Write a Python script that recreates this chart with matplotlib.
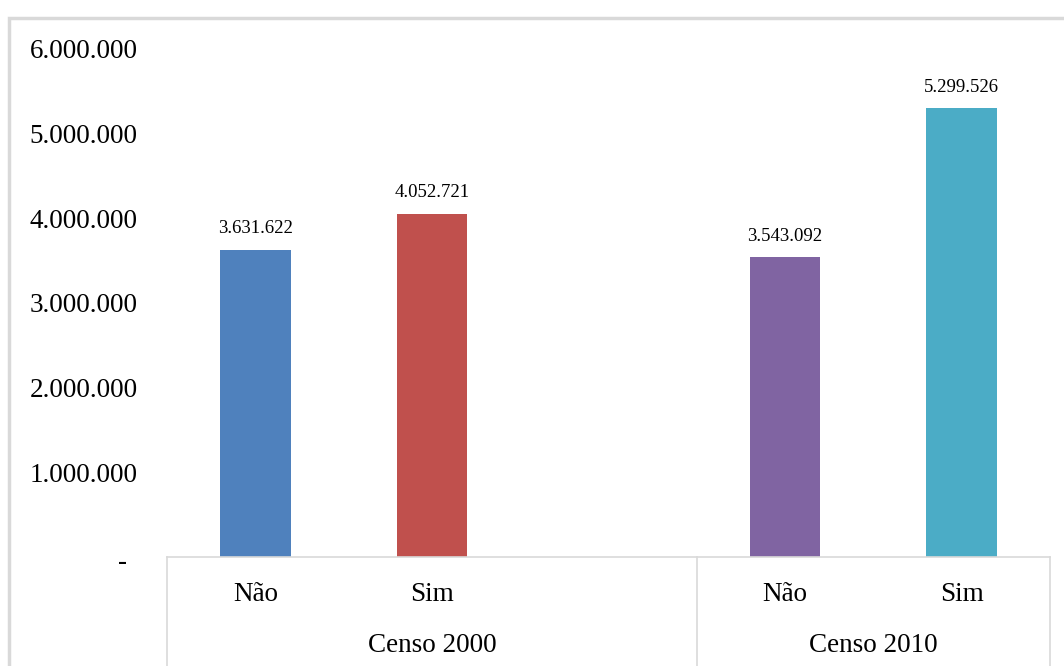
import numpy as np
import matplotlib
matplotlib.use('Agg')
import matplotlib.pyplot as plt
import matplotlib.transforms as mtransforms
from matplotlib.patches import Rectangle

# data
categories = ['Não', 'Sim', '', 'Não', 'Sim']
values = [3631622, 4052721, np.nan, 3543092, 5299526]
bar_colors = ['#4F81BD', '#C0504D', '#FFFFFF', '#8064A2', '#4BACC6']
groups = ['Censo 2000', 'Censo 2010']
group_spans = [(0, 2), (3, 4)]   # first and last slot of each group
yticks = [0, 1000000, 2000000, 3000000, 4000000, 5000000, 6000000]

plt.rcParams['font.family'] = ['Liberation Serif', 'DejaVu Serif']

def fmt_br(v):
    if v == 0:
        return '-'
    return f"{v:,.0f}".replace(',', '.')

fig = plt.figure(figsize=(10.64, 6.66), dpi=100)
ax = fig.add_axes([167 / 1064, 1 - 557 / 666, (1050 - 167) / 1064, (557 - 49) / 666])

x = np.arange(len(categories))
bars = ax.bar(x, np.nan_to_num(values), width=0.4, color=bar_colors)

labels = ['' if np.isnan(v) else fmt_br(v) for v in values]
ax.bar_label(bars, labels=labels, padding=9, fontsize=13.5)

ax.set_xlim(-0.5, len(categories) - 0.5)
ax.set_ylim(0, 6000000)
ax.set_yticks(yticks)
ax.set_yticklabels([fmt_br(v) for v in yticks], fontsize=19.5)
ax.tick_params(axis='y', length=0, pad=21)
ax.set_xticks([])

# shift the "-" zero label a little left, like the accounting format
zero_lbl = ax.get_yticklabels()[0]
zero_lbl.set_transform(zero_lbl.get_transform() +
                       mtransforms.ScaledTranslation(-0.11, -0.02, fig.dpi_scale_trans))

for s in ['top', 'right', 'left']:
    ax.spines[s].set_visible(False)
ax.spines['bottom'].set_color('#d9d9d9')
ax.spines['bottom'].set_linewidth(1.2)

# hierarchical category axis
trans = mtransforms.blended_transform_factory(ax.transData, ax.transAxes)
for i, c in enumerate(categories):
    if c:
        ax.text(i, -0.073, c, transform=trans, ha='center', va='center', fontsize=19.5)
edges = sorted({s[0] - 0.5 for s in group_spans} | {s[1] + 0.5 for s in group_spans})
for e in edges:
    ax.plot([e, e], [0, -0.3], transform=trans, color='#d9d9d9', lw=1.2, clip_on=False)
for g, (a, b) in zip(groups, group_spans):
    ax.text((a + b) / 2, -0.175, g, transform=trans, ha='center', va='center', fontsize=19.5)

# chart frame
fig.patches.append(Rectangle((9 / 1064, -1), 2, 1 - 17.5 / 666 + 1, transform=fig.transFigure,
                             fill=False, edgecolor='#d9d9d9', linewidth=2.5))

fig.savefig('out.png', dpi=100)
